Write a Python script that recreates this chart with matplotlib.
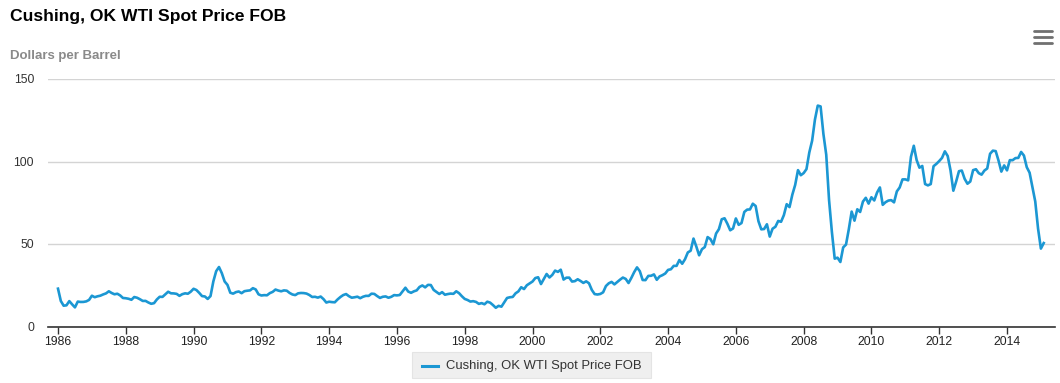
import matplotlib
matplotlib.use("Agg")
import matplotlib.pyplot as plt
from matplotlib.patches import Rectangle
from matplotlib.lines import Line2D
import numpy as np

plt.rcParams['font.family'] = ['Liberation Sans', 'DejaVu Sans']

title = "Cushing, OK WTI Spot Price FOB"
y_label = "Dollars per Barrel"
series_name = "Cushing, OK WTI Spot Price FOB"
start_year = 1986

prices = [
    # 1986
    22.93, 15.46, 12.61, 12.84, 15.38, 13.43, 11.59, 15.10, 14.87, 14.90, 15.22, 16.11,
    # 1987
    18.65, 17.75, 18.30, 18.68, 19.44, 20.07, 21.34, 20.31, 19.53, 19.86, 18.85, 17.28,
    # 1988
    17.13, 16.80, 16.20, 17.86, 17.42, 16.53, 15.50, 15.52, 14.54, 13.77, 14.14, 16.38,
    # 1989
    18.02, 17.94, 19.48, 21.07, 20.12, 20.05, 19.78, 18.58, 19.59, 20.10, 19.86, 21.10,
    # 1990
    22.86, 22.11, 20.39, 18.43, 18.20, 16.70, 18.45, 27.31, 33.51, 36.04, 32.33, 27.28,
    # 1991
    25.23, 20.48, 19.90, 20.83, 21.23, 20.19, 21.40, 21.69, 21.89, 23.23, 22.46, 19.50,
    # 1992
    18.79, 19.01, 18.92, 20.23, 20.98, 22.39, 21.78, 21.34, 21.88, 21.69, 20.34, 19.41,
    # 1993
    19.03, 20.09, 20.32, 20.25, 19.95, 19.09, 17.89, 18.01, 17.50, 18.15, 16.61, 14.52,
    # 1994
    15.03, 14.78, 14.68, 16.42, 17.89, 19.06, 19.66, 18.38, 17.45, 17.72, 18.07, 17.16,
    # 1995
    18.04, 18.57, 18.54, 19.90, 19.74, 18.45, 17.33, 18.02, 18.23, 17.43, 17.99, 19.03,
    # 1996
    18.86, 19.09, 21.33, 23.50, 21.17, 20.42, 21.30, 21.90, 23.97, 24.88, 23.71, 25.23,
    # 1997
    25.13, 22.18, 20.97, 19.70, 20.82, 19.26, 19.66, 19.95, 19.80, 21.33, 20.19, 18.33,
    # 1998
    16.72, 16.06, 15.12, 15.35, 14.91, 13.72, 14.17, 13.47, 15.03, 14.46, 13.00, 11.35,
    # 1999
    12.52, 12.01, 14.68, 17.31, 17.72, 17.92, 20.10, 21.28, 23.80, 22.69, 25.00, 26.10,
    # 2000
    27.26, 29.37, 29.84, 25.72, 28.79, 31.82, 29.70, 31.26, 33.88, 33.11, 34.42, 28.44,
    # 2001
    29.59, 29.61, 27.24, 27.49, 28.63, 27.60, 26.42, 27.37, 26.20, 22.17, 19.64, 19.39,
    # 2002
    19.72, 20.72, 24.53, 26.18, 27.04, 25.52, 26.97, 28.39, 29.66, 28.84, 26.35, 29.46,
    # 2003
    32.95, 35.83, 33.51, 28.17, 28.11, 30.66, 30.75, 31.57, 28.31, 30.34, 31.11, 32.13,
    # 2004
    34.31, 34.69, 36.74, 36.75, 40.28, 38.03, 40.78, 44.90, 45.94, 53.28, 48.47, 43.15,
    # 2005
    46.84, 48.15, 54.19, 52.98, 49.83, 56.35, 59.00, 64.99, 65.59, 62.26, 58.32, 59.41,
    # 2006
    65.49, 61.63, 62.69, 69.44, 70.84, 70.95, 74.41, 73.04, 63.80, 58.89, 59.08, 61.96,
    # 2007
    54.51, 59.28, 60.44, 63.98, 63.46, 67.49, 74.12, 72.36, 79.92, 85.80, 94.77, 91.69,
    # 2008
    92.97, 95.39, 105.45, 112.58, 125.40, 133.88, 133.37, 116.67, 104.11, 76.61, 57.31, 41.12,
    # 2009
    41.71, 39.09, 47.94, 49.65, 59.03, 69.64, 64.15, 71.05, 69.41, 75.72, 77.99, 74.47,
    # 2010
    78.33, 76.39, 81.20, 84.29, 73.74, 75.34, 76.32, 76.60, 75.24, 81.89, 84.25, 89.15,
    # 2011
    89.17, 88.58, 102.86, 109.53, 100.90, 96.26, 97.30, 86.33, 85.52, 86.32, 97.16, 98.56,
    # 2012
    100.27, 102.20, 106.16, 103.32, 94.66, 82.30, 87.90, 94.13, 94.51, 89.49, 86.53, 87.86,
    # 2013
    94.76, 95.31, 92.94, 92.02, 94.51, 95.77, 104.67, 106.57, 106.29, 100.54, 93.86, 97.63,
    # 2014
    94.62, 100.82, 100.80, 102.07, 102.18, 105.79, 103.59, 96.54, 93.21, 84.40, 75.79, 59.29,
    # 2015
    47.22, 50.58,
]

x_ticks = list(range(1986, 2015, 2))
y_ticks = [0, 50, 100, 150]

W, H = 1060, 383
fig = plt.figure(figsize=(W / 100, H / 100), dpi=100)
fig.patch.set_facecolor('white')

def fx(px):
    return px / W

def fy(py):
    return 1 - py / H

left, right, top, bottom = 48, 1055, 79, 326.5
ax = fig.add_axes([fx(left), fy(bottom), fx(right - left), (bottom - top) / H])

t = start_year + np.arange(len(prices)) / 12.0
ax.plot(t, prices, color='#1b97d3', lw=1.9, solid_joinstyle='round', clip_on=False, zorder=3)

x0 = 1986 - (58 - left) / ((1007 - 58) / 28)
x1 = 2014 + (right - 1007) / ((1007 - 58) / 28)
ax.set_xlim(x0, x1)
ax.set_ylim(0, 150)

ax.set_yticks(y_ticks)
ax.set_xticks(x_ticks)
ax.set_xticklabels([str(v) for v in x_ticks])
ax.grid(axis='y', color='#d4d4d4', lw=1.0)
ax.set_axisbelow(True)
for s in ['top', 'right', 'left']:
    ax.spines[s].set_visible(False)
ax.spines['bottom'].set_color('#333333')
ax.spines['bottom'].set_linewidth(1.2)
ax.tick_params(axis='y', length=0, pad=10, labelsize=8.8, labelcolor='#333333')
ax.tick_params(axis='x', length=5, width=1, color='#333333', pad=1.5,
               labelsize=8.8, labelcolor='#222222')

# Title and subtitle
fig.text(fx(10), fy(21), title, fontsize=12.6, fontweight='bold', color='#000000',
         ha='left', va='baseline')
fig.text(fx(10), fy(59), y_label, fontsize=9.5, fontweight='bold', color='#8a8a8a',
         ha='left', va='baseline')

# Menu icon
for yy in [31, 37, 43]:
    fig.add_artist(Line2D([fx(1034), fx(1052)], [fy(yy), fy(yy)], color='#707070',
                          lw=2.0, solid_capstyle='round'))

# Legend box
fig.add_artist(Rectangle((fx(412), fy(378)), fx(651 - 412), (378 - 352) / H,
                         facecolor='#efefef', edgecolor='#e4e4e4', lw=0.8))
fig.add_artist(Line2D([fx(422), fx(438)], [fy(366), fy(366)], color='#1b97d3', lw=2.2))
fig.text(fx(446), fy(366), series_name, fontsize=9.4, color='#333333',
         ha='left', va='center')

fig.savefig('out.png', dpi=100, facecolor='white')
